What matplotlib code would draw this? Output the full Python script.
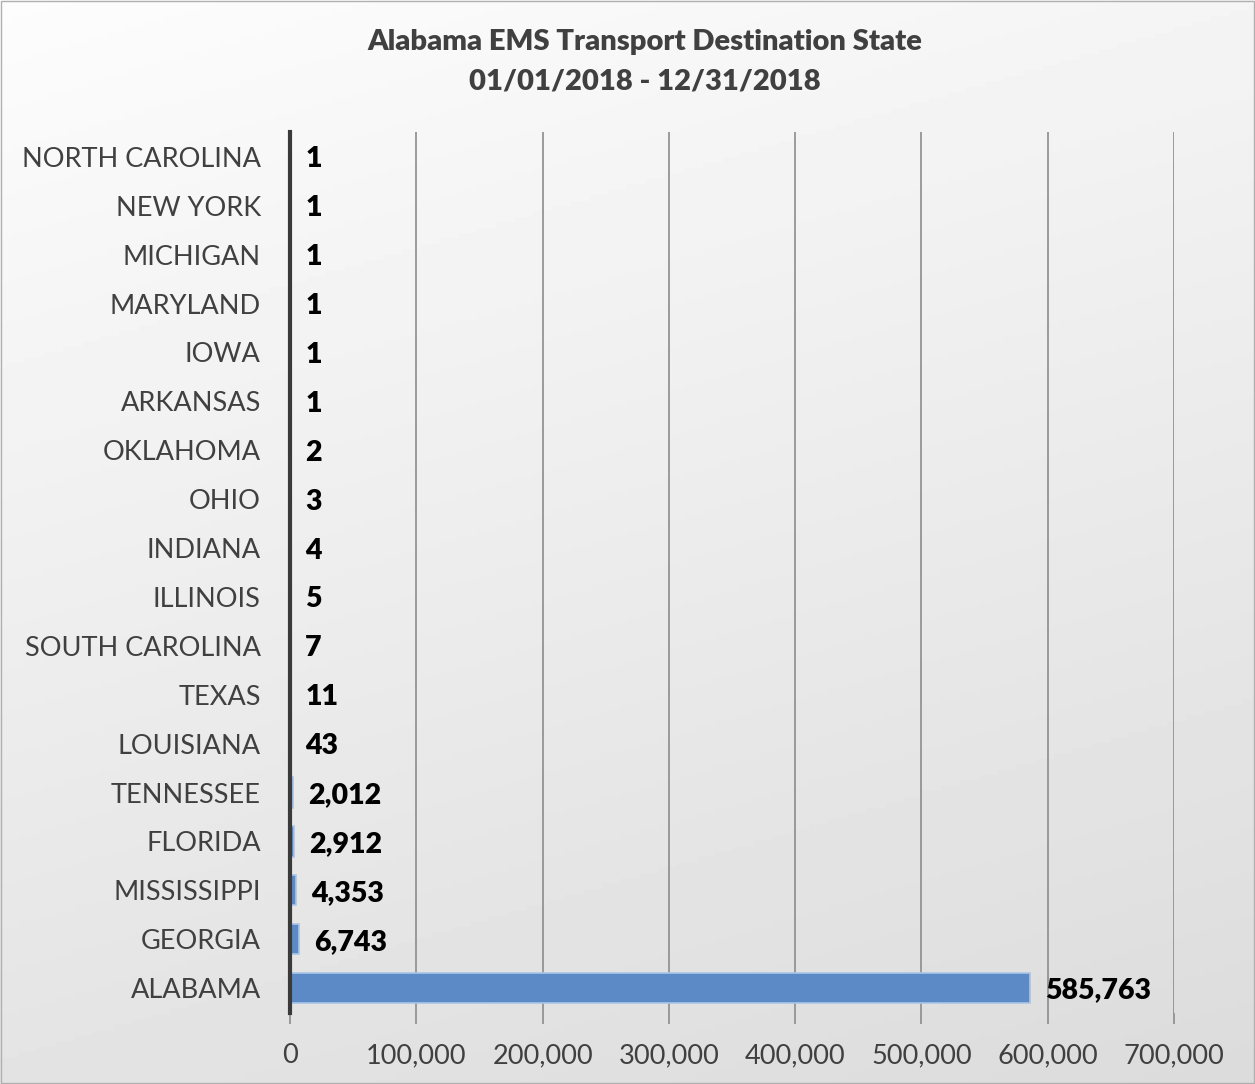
import matplotlib.pyplot as plt
import numpy as np

states = ["ALABAMA", "GEORGIA", "MISSISSIPPI", "FLORIDA", "TENNESSEE", "LOUISIANA",
          "TEXAS", "SOUTH CAROLINA", "ILLINOIS", "INDIANA", "OHIO", "OKLAHOMA",
          "ARKANSAS", "IOWA", "MARYLAND", "MICHIGAN", "NEW YORK", "NORTH CAROLINA"]
transports = [585763, 6743, 4353, 2912, 2012, 43, 11, 7, 5, 4, 3, 2, 1, 1, 1, 1, 1, 1]
x_ticks = [0, 100000, 200000, 300000, 400000, 500000, 600000, 700000]

plt.rcParams["font.family"] = ["Lato", "DejaVu Sans"]

fig = plt.figure(figsize=(12.55, 10.84), dpi=100)

# soft gradient background, lighter top-left, grey bottom-right
bg = fig.add_axes([0, 0, 1, 1], zorder=-10)
yy, xx = np.mgrid[0:1:200j, 0:1:200j]
shade = 0.99 - 0.13 * (0.75 * yy + 0.25 * xx)
bg.imshow(shade, cmap="gray", vmin=0, vmax=1, aspect="auto", extent=[0, 1, 0, 1])
bg.axis("off")
bg.add_patch(plt.Rectangle((0.001, 0.001), 0.998, 0.998, fill=False,
                           edgecolor="#b0b0b0", lw=1, transform=bg.transAxes))

ax = fig.add_axes([0.2311, 0.0659, 0.7044, 0.8119])
ax.patch.set_alpha(0)
y = np.arange(len(states))
ax.barh(y, transports, height=0.62, color="#5b8ac7", edgecolor="#aac5e8", lw=1.2, zorder=3)

ax.set_xlim(0, 700000)
ax.set_ylim(-0.5, len(states) - 0.5)
ax.set_xticks(x_ticks)
ax.set_xticklabels([f"{t:,}" for t in x_ticks], fontsize=19.5, color="#404040")
ax.set_yticks(y)
ax.set_yticklabels(states, fontsize=19.5, color="#404040")
ax.tick_params(axis="y", length=0, pad=21)
ax.tick_params(axis="x", length=8, width=1.2, color="#8c8c8c", pad=14)
ax.grid(True, axis="x", color="#8c8c8c", lw=1.2, zorder=1)
for side in ["top", "right", "bottom"]:
    ax.spines[side].set_visible(False)
ax.spines["left"].set_color("#3a3a3a")
ax.spines["left"].set_linewidth(3)
ax.spines["left"].set_zorder(4)

for yi, v in zip(y, transports):
    ax.annotate(f"{v:,}", (v, yi - 0.05), xytext=(11, 0), textcoords="offset points",
                va="center", ha="left", fontsize=20.5, fontweight="heavy",
                color="black", zorder=5)

fig.text(0.5135, 0.943, "Alabama EMS Transport Destination State\n01/01/2018 - 12/31/2018",
         ha="center", va="center", fontsize=21, fontweight="heavy", color="#404040",
         linespacing=1.6)

fig.savefig("out.png", dpi=100)
